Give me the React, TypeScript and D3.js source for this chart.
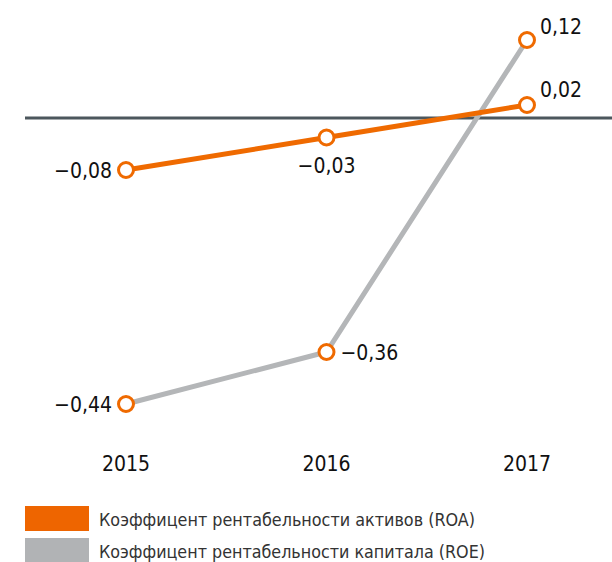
import React from "react";
import * as d3 from "d3";

const years = ["2015", "2016", "2017"];
const roaValues = [-0.08, -0.03, 0.02];
const roeValues = [-0.44, -0.36, 0.12];
const legendLabels = [
  "Коэффицент рентабельности активов (ROA)",
  "Коэффицент рентабельности капитала (ROE)",
];

const ORANGE = "#ef6a00";
const GREY = "#b4b6b8";
const FONT = "'DejaVu Sans Condensed', sans-serif";

const fmt = (v: number) => (v < 0 ? "\u2212" : "") + d3.format(".2f")(Math.abs(v)).replace(".", ",");

export default function App() {
  const width = 612;
  const height = 562;

  const x = d3.scalePoint<string>().domain(years).range([126, 527]);
  const y = d3.scaleLinear().domain([0, 0.12]).range([118, 40]);

  const line = d3
    .line<number>()
    .x((_, i) => x(years[i])!)
    .y((d) => y(d));

  // label placement per point: [dx, dy, anchor]
  const roaLabelPos: [number, number, string][] = [
    [-14, 8, "end"],
    [0, 35, "middle"],
    [13, -8, "start"],
  ];
  const roeLabelPos: [number, number, string][] = [
    [-14, 8, "end"],
    [14, 8, "start"],
    [13, -6, "start"],
  ];

  return (
    <svg
      width={width}
      height={height}
      style={{ position: "absolute", left: 0, top: 0, background: "#fff" }}
      fontFamily={FONT}
    >
      <line x1={25} x2={612} y1={y(0)} y2={y(0)} stroke="#4c575d" strokeWidth={3} />

      <path d={line(roeValues)!} fill="none" stroke={GREY} strokeWidth={5} />
      <path d={line(roaValues)!} fill="none" stroke={ORANGE} strokeWidth={5} />

      {[roeValues, roaValues].map((vals, s) =>
        vals.map((v, i) => (
          <circle
            key={`${s}-${i}`}
            cx={x(years[i])}
            cy={y(v)}
            r={7.5}
            fill="#fff"
            stroke={ORANGE}
            strokeWidth={3}
          />
        ))
      )}

      {roaValues.map((v, i) => (
        <text
          key={`roa-l-${i}`}
          x={x(years[i])! + roaLabelPos[i][0]}
          y={y(v) + roaLabelPos[i][1]}
          textAnchor={roaLabelPos[i][2] as any}
          fontSize={21}
          fill="#111"
        >
          {fmt(v)}
        </text>
      ))}
      {roeValues.map((v, i) => (
        <text
          key={`roe-l-${i}`}
          x={x(years[i])! + roeLabelPos[i][0]}
          y={y(v) + roeLabelPos[i][1]}
          textAnchor={roeLabelPos[i][2] as any}
          fontSize={21}
          fill="#111"
        >
          {fmt(v)}
        </text>
      ))}

      {years.map((yr) => (
        <text key={yr} x={x(yr)} y={471} textAnchor="middle" fontSize={21} fill="#111">
          {yr}
        </text>
      ))}

      {legendLabels.map((lbl, i) => (
        <g key={lbl} transform={`translate(25,${506 + i * 32})`}>
          <rect width={64} height={25} fill={i === 0 ? "#ee6500" : "#b1b3b5"} />
          <text
            x={74}
            y={20}
            fontSize={18}
            fill="#333"
            textLength={i === 0 ? 376 : 386}
            lengthAdjust="spacingAndGlyphs"
          >
            {lbl}
          </text>
        </g>
      ))}
    </svg>
  );
}
